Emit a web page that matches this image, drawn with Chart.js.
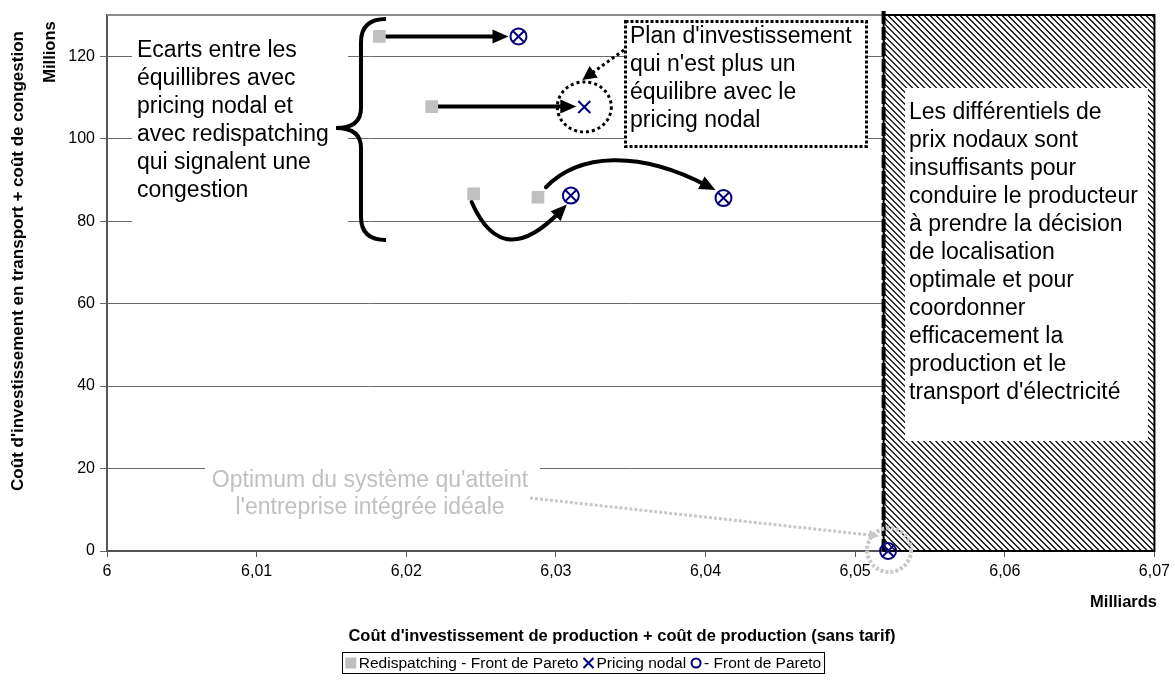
<!DOCTYPE html>
<html><head><meta charset="utf-8">
<script src="https://cdn.jsdelivr.net/npm/chart.js@4.4.1/dist/chart.umd.min.js"></script>
<style>html,body{margin:0;padding:0;background:#fff;overflow:hidden}</style>
</head><body>
<canvas id="c" width="1175" height="682"></canvas>
<script>
const FONT = "'Liberation Sans', Arial, Helvetica, sans-serif";
const NAVY = '#00007f';

// ---- data ----
const seriesNames = ['Redispatching - Front de Pareto', 'Pricing nodal', '- Front de Pareto'];
const redispatchX = [6.0182, 6.0217, 6.0245, 6.0288];
const redispatchY = [124.8, 107.8, 86.6, 85.8];
const nodalX = [6.0275, 6.0319, 6.0310, 6.0412, 6.0522];
const nodalY = [124.8, 107.7, 86.2, 85.6, 0];
const paretoX = [6.0275, 6.0310, 6.0412, 6.0522];
const paretoY = [124.8, 86.2, 85.6, 0];
const xTicks = [6, 6.01, 6.02, 6.03, 6.04, 6.05, 6.06, 6.07];
const yTicks = [0, 20, 40, 60, 80, 100, 120];
const xRange = [6, 6.07];
const yRange = [0, 130];
const paretoLimit = 6.0519;

const xAxisTitle = "Coût d'investissement de production + coût de production (sans tarif)";
const yAxisTitle = "Coût d'investissement en transport + coût de congestion";
const xUnit = 'Milliards';
const yUnit = 'Millions';
const noteGaps = ['Ecarts entre les', 'équillibres avec', 'pricing nodal et', 'avec redispatching', 'qui signalent une', 'congestion'];
const notePlan = ["Plan d'investissement", "qui n'est plus un", 'équilibre avec le', 'pricing nodal'];
const noteRegion = ['Les différentiels de', 'prix nodaux sont', 'insuffisants pour', 'conduire le producteur', 'à prendre la décision', 'de localisation', 'optimale et pour', 'coordonner', 'efficacement la', 'production et le', "transport d'électricité"];
const noteOptimum = ["Optimum du système qu'atteint", "l'entreprise intégrée idéale"];

const pts = (xs, ys) => xs.map((x, i) => ({x, y: ys[i]}));

function arrowHead(ctx, tx, ty, ang, len, half) {
  const c = Math.cos(ang), s = Math.sin(ang);
  ctx.beginPath();
  ctx.moveTo(tx, ty);
  ctx.lineTo(tx - len * c + half * s, ty - len * s - half * c);
  ctx.lineTo(tx - len * c - half * s, ty - len * s + half * c);
  ctx.closePath();
  ctx.fill();
}

const decor = {
  id: 'decor',
  beforeDatasetsDraw(chart) {
    const ctx = chart.ctx, ca = chart.chartArea;
    const xs = chart.scales.x, ys = chart.scales.y;
    ctx.save();
    // top border
    ctx.strokeStyle = '#8c8c8c'; ctx.lineWidth = 2;
    ctx.beginPath(); ctx.moveTo(ca.left, ca.top); ctx.lineTo(ca.right, ca.top); ctx.stroke();

    // hatched region
    const hx = xs.getPixelForValue(paretoLimit);
    ctx.save();
    ctx.beginPath(); ctx.rect(hx, ca.top, ca.right - hx, ca.bottom - ca.top);
    ctx.fillStyle = '#fff'; ctx.fill();
    ctx.clip();
    ctx.strokeStyle = '#000'; ctx.lineWidth = 1.3;
    const H = ca.bottom - ca.top;
    for (let x0 = hx - H; x0 < ca.right + 2; x0 += 6) {
      ctx.beginPath(); ctx.moveTo(x0, ca.top); ctx.lineTo(x0 + H, ca.bottom); ctx.stroke();
    }
    ctx.restore();
    ctx.strokeStyle = '#000'; ctx.lineWidth = 2;
    ctx.strokeRect(hx, ca.top, ca.right - hx, ca.bottom - ca.top);
    ctx.lineWidth = 4; ctx.setLineDash([13, 3]);
    ctx.beginPath(); ctx.moveTo(hx, ca.top - 4); ctx.lineTo(hx, ca.bottom); ctx.stroke();
    ctx.setLineDash([]);

    // region note box
    ctx.fillStyle = '#fff';
    ctx.fillRect(905, 88, 243, 353);
    ctx.fillStyle = '#000'; ctx.font = '23px ' + FONT; ctx.textBaseline = 'middle'; ctx.textAlign = 'left';
    noteRegion.forEach((t, i) => ctx.fillText(t, 909, 113 + i * 28));

    // left note
    ctx.fillStyle = '#fff'; ctx.fillRect(132, 28, 216, 200);
    ctx.fillStyle = '#000';
    noteGaps.forEach((t, i) => ctx.fillText(t, 137, 51 + i * 28));

    // plan note
    ctx.fillStyle = '#fff'; ctx.fillRect(624, 20, 244, 128);
    ctx.strokeStyle = '#000'; ctx.lineWidth = 3; ctx.setLineDash([3, 2]);
    ctx.strokeRect(625.5, 21.5, 241, 125);
    ctx.setLineDash([]);
    ctx.fillStyle = '#000';
    notePlan.forEach((t, i) => ctx.fillText(t, 630, 37 + i * 28));

    // optimum note
    ctx.fillStyle = '#fff'; ctx.fillRect(205, 465, 335, 56);
    ctx.fillStyle = '#c0c0c0'; ctx.textAlign = 'center';
    noteOptimum.forEach((t, i) => ctx.fillText(t, 370, 481 + i * 27));

    // arrows between equilibria
    const P = (x, y) => [xs.getPixelForValue(x), ys.getPixelForValue(y)];
    ctx.strokeStyle = '#000'; ctx.fillStyle = '#000'; ctx.lineWidth = 4; ctx.lineCap = 'round';
    [[0, 0], [1, 1]].forEach(([r, n]) => {
      const a = P(redispatchX[r], redispatchY[r]), b = P(nodalX[n], nodalY[n]);
      const tip = [b[0] - (n === 0 ? 10 : 8), a[1]];
      ctx.beginPath(); ctx.moveTo(a[0] + 7, a[1]); ctx.lineTo(tip[0] - 10, tip[1]); ctx.stroke();
      arrowHead(ctx, tip[0], tip[1], 0, 16, 7);
    });
    {
      const a = P(redispatchX[2], redispatchY[2]), b = P(nodalX[2], nodalY[2]);
      const s = [a[0] - 2, a[1] + 8], t = [b[0] - 4, b[1] + 9];
      const c1 = [s[0] + 22, s[1] + 50], c2 = [t[0] - 43, t[1] + 44];
      const ang = Math.atan2(t[1] - c2[1], t[0] - c2[0]);
      const e = [t[0] - 10 * Math.cos(ang), t[1] - 10 * Math.sin(ang)];
      ctx.beginPath(); ctx.moveTo(s[0], s[1]); ctx.bezierCurveTo(c1[0], c1[1], c2[0], c2[1], e[0], e[1]); ctx.stroke();
      arrowHead(ctx, t[0], t[1], ang, 16, 7);
    }
    {
      const a = P(redispatchX[3], redispatchY[3]), b = P(nodalX[3], nodalY[3]);
      const s = [a[0] + 8, a[1] - 10], t = [b[0] - 8, b[1] - 8];
      const c1 = [s[0] + 33, s[1] - 34], c2 = [t[0] - 77, t[1] - 40];
      const ang = Math.atan2(t[1] - c2[1], t[0] - c2[0]);
      const e = [t[0] - 10 * Math.cos(ang), t[1] - 10 * Math.sin(ang)];
      ctx.beginPath(); ctx.moveTo(s[0], s[1]); ctx.bezierCurveTo(c1[0], c1[1], c2[0], c2[1], e[0], e[1]); ctx.stroke();
      arrowHead(ctx, t[0], t[1], ang, 16, 7);
    }
    {
      const b = P(nodalX[1], nodalY[1]);
      ctx.lineWidth = 3; ctx.lineCap = 'butt'; ctx.setLineDash([3, 3]);
      ctx.beginPath(); ctx.ellipse(b[0], b[1], 27, 25, 0, 0, Math.PI * 2); ctx.stroke();
      const s = [624, 50], t = [b[0] - 2, b[1] - 27];
      const ang = Math.atan2(t[1] - s[1], t[0] - s[0]);
      ctx.beginPath(); ctx.moveTo(s[0], s[1]); ctx.lineTo(t[0] - 10 * Math.cos(ang), t[1] - 10 * Math.sin(ang)); ctx.stroke();
      ctx.setLineDash([]);
      arrowHead(ctx, t[0], t[1], ang, 14, 7);
    }
    {
      const o = P(nodalX[4], nodalY[4]);
      ctx.strokeStyle = '#c8c8c8'; ctx.fillStyle = '#c8c8c8'; ctx.lineWidth = 4; ctx.setLineDash([3, 2]);
      ctx.beginPath(); ctx.arc(o[0] + 1, o[1] - 1, 22, 0, Math.PI * 2); ctx.stroke();
      const s = [530, 498], t = [o[0] - 9, o[1] - 15];
      const ang = Math.atan2(t[1] - s[1], t[0] - s[0]);
      ctx.lineWidth = 3;
      ctx.beginPath(); ctx.moveTo(s[0], s[1]); ctx.lineTo(t[0] - 8 * Math.cos(ang), t[1] - 8 * Math.sin(ang)); ctx.stroke();
      ctx.setLineDash([]);
      arrowHead(ctx, t[0], t[1], ang, 10, 5);
    }
    // brace
    ctx.strokeStyle = '#000'; ctx.lineWidth = 4; ctx.lineCap = 'butt';
    ctx.beginPath();
    ctx.moveTo(386, 19);
    ctx.quadraticCurveTo(361, 19, 361, 42);
    ctx.lineTo(361, 108);
    ctx.quadraticCurveTo(361, 128, 336, 128);
    ctx.quadraticCurveTo(361, 128, 361, 148);
    ctx.lineTo(361, 217);
    ctx.quadraticCurveTo(361, 240, 386, 240);
    ctx.stroke();
    ctx.restore();
  },
  afterDraw(chart) {
    const ctx = chart.ctx;
    ctx.save();
    ctx.fillStyle = '#000';
    ctx.textBaseline = 'middle';
    ctx.font = 'bold 16.5px ' + FONT;
    ctx.textAlign = 'center';
    ctx.fillText(xAxisTitle, 622, 636);
    ctx.textAlign = 'right';
    ctx.fillText(xUnit, 1157, 602);
    ctx.font = 'bold 17px ' + FONT;
    ctx.save(); ctx.translate(18, 261); ctx.rotate(-Math.PI / 2); ctx.textAlign = 'center';
    ctx.fillText(yAxisTitle, 0, 0); ctx.restore();
    ctx.font = 'bold 16.5px ' + FONT;
    ctx.save(); ctx.translate(50, 52); ctx.rotate(-Math.PI / 2); ctx.textAlign = 'center';
    ctx.fillText(yUnit, 0, 0); ctx.restore();

    // legend
    ctx.font = '15.5px ' + FONT; ctx.textAlign = 'left';
    const mk = 14, gap = 4;
    const widths = seriesNames.map(n => ctx.measureText(n).width);
    const total = widths.reduce((a, b) => a + b, 0) + seriesNames.length * mk + (seriesNames.length - 1) * gap;
    let x = 583 - total / 2;
    const y = 663;
    ctx.strokeStyle = '#000'; ctx.lineWidth = 1;
    ctx.strokeRect(Math.round(x - 3) + 0.5, 652.5, Math.round(total + 6), 21);
    seriesNames.forEach((n, i) => {
      const cx = x + 6;
      if (i === 0) { ctx.fillStyle = '#c0c0c0'; ctx.fillRect(cx - 5.5, y - 5.5, 11, 11); }
      else if (i === 1) {
        ctx.strokeStyle = NAVY; ctx.lineWidth = 2;
        ctx.beginPath(); ctx.moveTo(cx - 5, y - 5); ctx.lineTo(cx + 5, y + 5); ctx.moveTo(cx + 5, y - 5); ctx.lineTo(cx - 5, y + 5); ctx.stroke();
      } else {
        ctx.strokeStyle = NAVY; ctx.lineWidth = 2;
        ctx.beginPath(); ctx.arc(cx, y, 4.5, 0, Math.PI * 2); ctx.stroke();
      }
      ctx.fillStyle = '#000';
      ctx.fillText(n, x + mk, y + 1);
      x += mk + widths[i] + gap;
    });
    ctx.restore();
  }
};

new Chart(document.getElementById('c'), {
  type: 'scatter',
  data: {
    datasets: [
      { label: seriesNames[0], data: pts(redispatchX, redispatchY), pointStyle: 'rect', pointRadius: 9, pointHoverRadius: 9,
        backgroundColor: '#c0c0c0', borderColor: '#c0c0c0', borderWidth: 0, order: 3 },
      { label: seriesNames[1], data: pts(nodalX, nodalY), pointStyle: 'crossRot', pointRadius: 8.5, pointHoverRadius: 8.5,
        borderColor: NAVY, backgroundColor: NAVY, borderWidth: 2, clip: false, order: 2 },
      { label: seriesNames[2], data: pts(paretoX, paretoY), pointStyle: 'circle', pointRadius: 8, pointHoverRadius: 8,
        borderColor: NAVY, backgroundColor: 'rgba(0,0,0,0)', borderWidth: 2, clip: false, order: 1 }
    ]
  },
  options: {
    responsive: false, animation: false, devicePixelRatio: 1,
    layout: { padding: { top: 15, right: 18, left: 0, bottom: 0 } },
    plugins: { legend: { display: false }, tooltip: { enabled: false } },
    scales: {
      x: {
        type: 'linear', min: xRange[0], max: xRange[1],
        afterFit(s) { s.height = 131; },
        afterBuildTicks(s) { s.ticks = xTicks.map(v => ({ value: v })); },
        ticks: { font: { family: FONT, size: 16 }, color: '#000', padding: 5, maxRotation: 0,
          callback: v => String(Math.round(v * 100) / 100).replace('.', ',') },
        grid: { drawOnChartArea: false, drawTicks: true, tickLength: 6, color: '#555', lineWidth: 1 },
        border: { display: true, color: '#555', width: 2 }
      },
      y: {
        type: 'linear', min: yRange[0], max: yRange[1],
        afterFit(s) { s.width = 107; },
        afterBuildTicks(s) { s.ticks = yTicks.map(v => ({ value: v })); },
        ticks: { font: { family: FONT, size: 16 }, color: '#000', padding: 5,
          callback: v => String(v) },
        grid: { drawOnChartArea: true, drawTicks: true, tickLength: 7, color: '#6a6a6a', lineWidth: 1 },
        border: { display: true, color: '#555', width: 2 }
      }
    }
  },
  plugins: [decor]
});
</script>
</body></html>
